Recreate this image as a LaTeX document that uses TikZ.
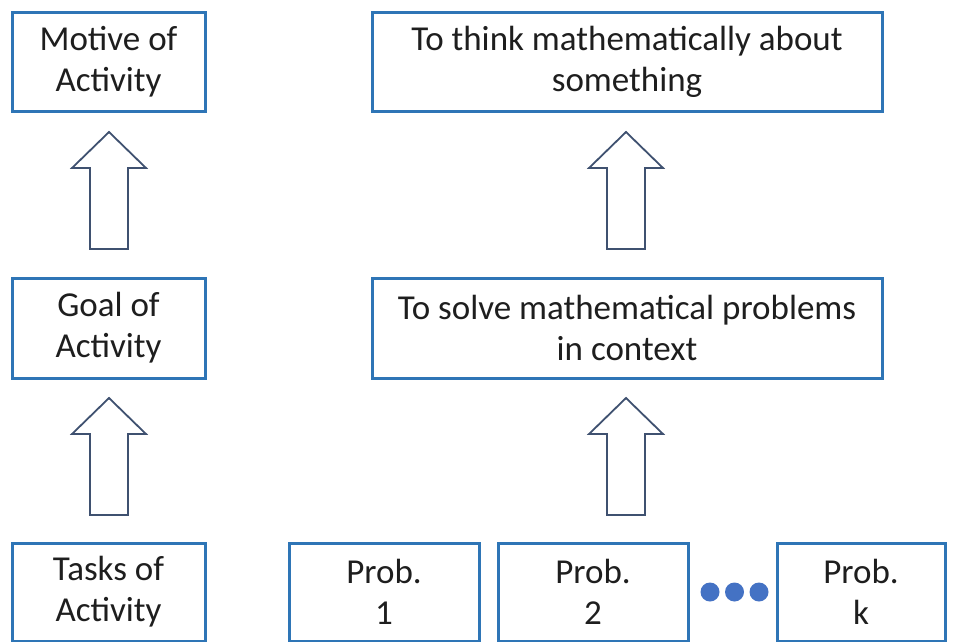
\documentclass[tikz,border=0pt]{standalone}
\usepackage{fontspec}
\setmainfont{Carlito}
\definecolor{boxblue}{HTML}{2E75B6}
\definecolor{arrowgray}{HTML}{3F5170}
\definecolor{dotblue}{HTML}{4472C4}
\definecolor{txt}{HTML}{1E1E1E}
\begin{document}
\begin{tikzpicture}[x=1pt,y=-1pt,
  box/.style={draw=boxblue,line width=3pt,fill=white,inner sep=0pt,align=center,
    text=txt,font=\fontsize{35}{41}\selectfont},
  blockarrow/.style={draw=arrowgray,line width=1.8pt,fill=white,line join=miter}]
\useasboundingbox (0,0) rectangle (957,641);
% left column
\node[box,minimum width=193pt,minimum height=99pt] (motive) at (108.5,61.5) {Motive of\\Activity};
\node[box,minimum width=193pt,minimum height=100pt] (goal) at (108.5,328) {Goal of\\Activity};
\node[box,minimum width=193pt,minimum height=98pt] (tasks) at (108.5,592) {Tasks of\\Activity};
% right column
\node[box,minimum width=510pt,minimum height=99pt] (think) at (627,61.5) {To think mathematically about\\something};
\node[box,minimum width=510pt,minimum height=100pt] (solve) at (627,328) {To solve mathematical problems\\in context};
\node[box,minimum width=190pt,minimum height=98pt] (p1) at (384,592) {Prob.\\1};
\node[box,minimum width=190pt,minimum height=98pt] (p2) at (593,592) {Prob.\\2};
\node[box,minimum width=168pt,minimum height=98pt] (pk) at (861,592) {Prob.\\k};
% dots
\coordinate (dots) at (734.5,592);
\foreach \dx in {-24.5,0,24.5} \fill[dotblue] ([xshift=\dx pt]dots) circle (9.5pt);
% block arrows
\newcommand\blockarrowat[2]{%
  \draw[blockarrow] (#1,#2) -- ++(37,36) -- ++(-18,0) -- ++(0,81) -- ++(-38,0)
    -- ++(0,-81) -- ++(-18,0) -- cycle;}
\blockarrowat{109}{132}
\blockarrowat{109}{398}
\blockarrowat{626}{132}
\blockarrowat{626}{398}
\end{tikzpicture}
\end{document}
